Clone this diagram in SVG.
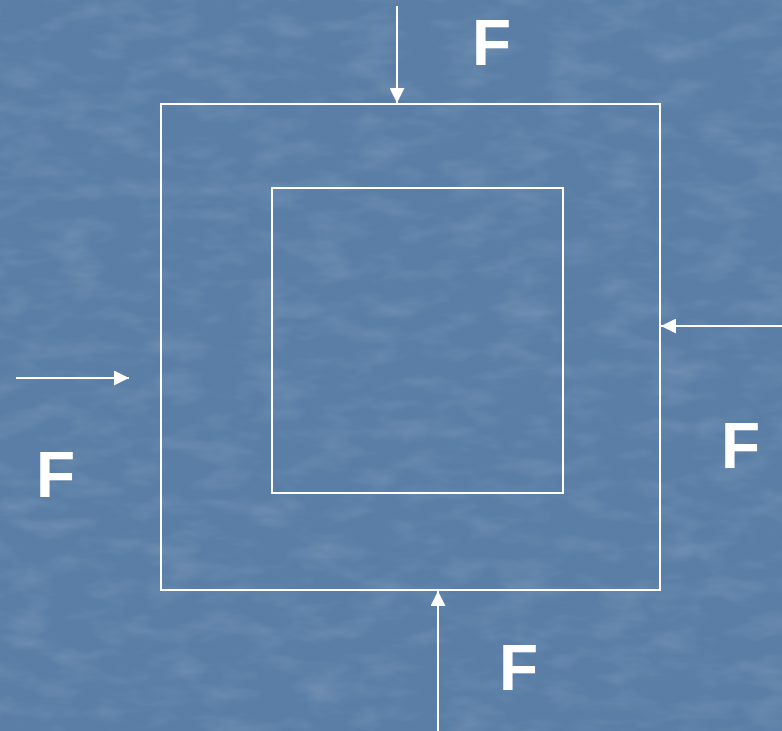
<svg xmlns="http://www.w3.org/2000/svg" width="782" height="731" viewBox="0 0 782 731">
<style>
.ln{stroke:#ffffff;stroke-width:2;fill:none}
.lbl{font-family:"Liberation Sans",Arial,sans-serif;font-weight:bold;font-size:64px;fill:#ffffff}
</style>
<defs>
<marker id="ah" viewBox="0 0 10 10" refX="10" refY="5" markerWidth="7.5" markerHeight="7.5" markerUnits="strokeWidth" orient="auto">
<path d="M0,0 L10,5 L0,10 Z" fill="#ffffff"/>
</marker>
<filter id="tex" x="0" y="0" width="100%" height="100%">
<feTurbulence type="fractalNoise" baseFrequency="0.02 0.05" numOctaves="3" seed="4" result="n"/>
<feColorMatrix type="matrix" values="0 0 0 0 1  0 0 0 0 1  0 0 0 0 1  0 0 0 0.5 -0.22" in="n"/>
</filter>
</defs>
<rect id="bg" x="0" y="0" width="782" height="731" fill="#5a7ea6"/>
<rect x="0" y="0" width="782" height="731" filter="url(#tex)" opacity="0.5"/>
<g id="outer"><rect class="ln" x="161" y="104" width="499" height="486"/></g>
<g id="inner"><rect class="ln" x="272" y="188" width="291" height="305"/></g>
<g id="connectors">
<line class="ln" x1="397" y1="6" x2="397" y2="103" marker-end="url(#ah)"/>
<line class="ln" x1="16" y1="378" x2="129" y2="378" marker-end="url(#ah)"/>
<line class="ln" x1="782" y1="326" x2="661" y2="326" marker-end="url(#ah)"/>
<line class="ln" x1="438" y1="731" x2="438" y2="591" marker-end="url(#ah)"/>
</g>
<g id="labels">
<text class="lbl" x="472" y="65">F</text>
<text class="lbl" x="36" y="497">F</text>
<text class="lbl" x="721" y="468">F</text>
<text class="lbl" x="499" y="690">F</text>
</g>
</svg>
